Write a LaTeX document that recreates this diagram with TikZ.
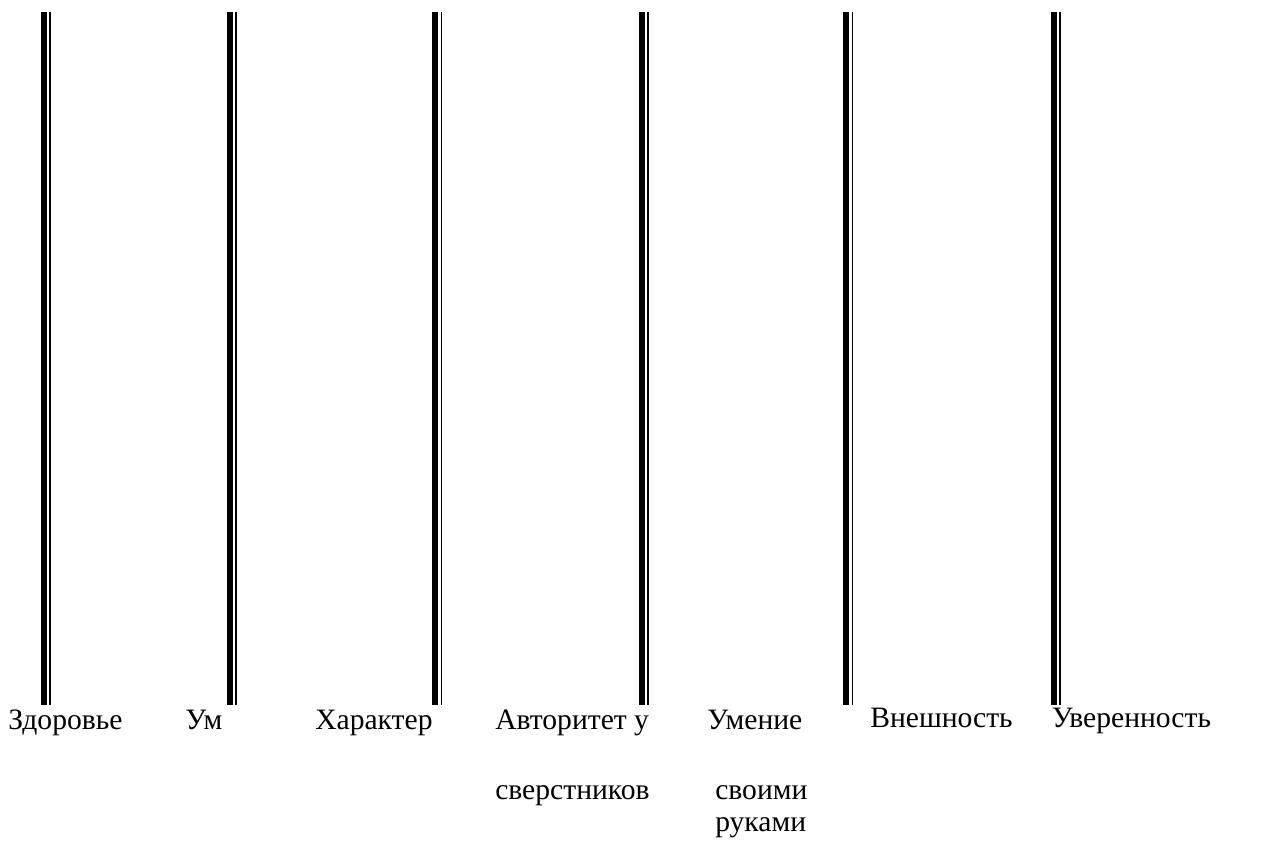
\documentclass[tikz,border=0pt]{standalone}
\usepackage{fontspec}
\setmainfont{Liberation Serif}
\newfontfamily\rusfont[Script=Cyrillic]{Liberation Serif}
\usetikzlibrary{positioning}

\begin{document}
\begin{tikzpicture}[x=0.75pt,y=-0.75pt,
                    font=\rusfont\fontsize{22.2}{26}\selectfont]
  \tikzstyle{every node}=[inner sep=0pt,anchor=base west,text=black]
  \tikzstyle{thick bar}=[line width=4.4pt,black]
  \tikzstyle{thin bar}=[line width=1.1pt,black]

  \useasboundingbox (0,0) rectangle (1277,841);

  \foreach \x in {40.5,226.5,432,638.5,843,1050.5} {
    \draw[thick bar] (\x+3.1,12) -- (\x+3.1,705);
    \draw[thin bar]  (\x+9.7,12) -- (\x+9.7,705);
  }

  \node (zdorovie)  at (8,729)    {Здоровье};
  \node (um)        at (185,729)  {Ум};
  \node (harakter)  at (315,729)  {Характер};
  \node (avtoritet) at (495,729)  {Авторитет у};
  \node (sverstn)   at (495,799)  {сверстников};
  \node (umenie)    at (707,729)  {Умение};
  \node (svoimi)    at (715,799)  {своими};
  \node (rukami)    at (715,831)  {руками};
  \node (vneshn)    at (870,727)  {Внешность};
  \node (uveren)    at (1051.5,727) {Уверенность};
\end{tikzpicture}
\end{document}
